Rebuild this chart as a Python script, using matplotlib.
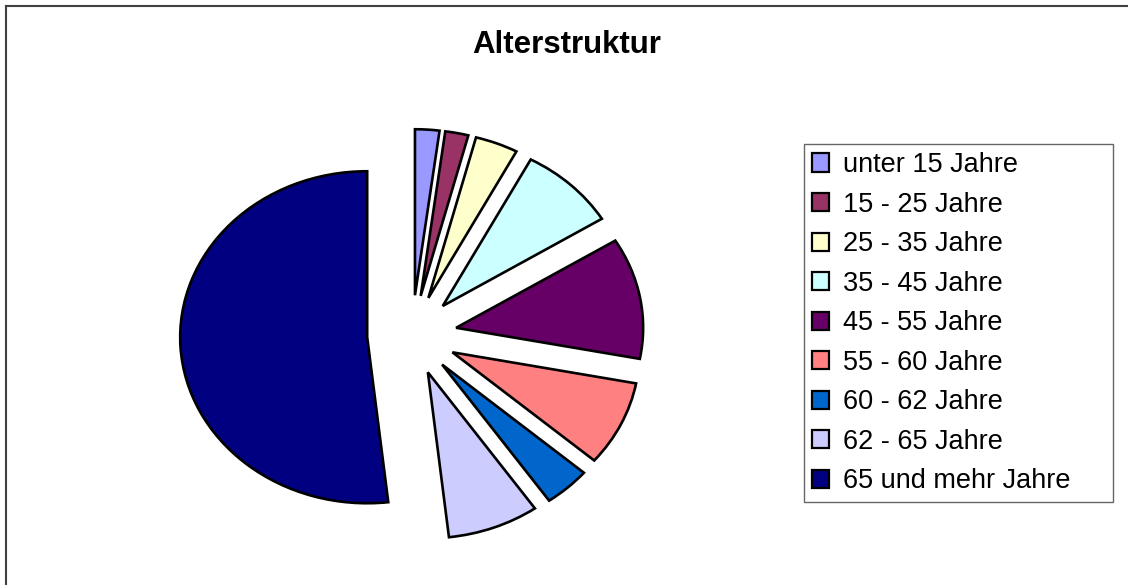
import matplotlib
matplotlib.use("Agg")
import matplotlib.pyplot as plt
from matplotlib.lines import Line2D

# ---- data ----
categories = ["unter 15 Jahre", "15 - 25 Jahre", "25 - 35 Jahre", "35 - 45 Jahre",
              "45 - 55 Jahre", "55 - 60 Jahre", "60 - 62 Jahre", "62 - 65 Jahre",
              "65 und mehr Jahre"]
shares = [2.1, 2.0, 3.7, 8.4, 11.8, 8.3, 4.0, 7.9, 51.8]
colors = ["#9999FF", "#993366", "#FFFFCC", "#CCFFFF", "#660066",
          "#FF8080", "#0066CC", "#CCCCFF", "#000080"]
title = "Alterstruktur"

W, H = 1128, 585
DPI = 100
fig = plt.figure(figsize=(W / DPI, H / DPI), dpi=DPI)
fig.patch.set_facecolor("white")

# pie geometry in pixels
cx, cy = 412, 335      # centre (from top-left)
rx, ry = 187, 166      # horizontal / vertical radius

ax = fig.add_axes([0, 0, 1, 1])
wedges, _ = ax.pie(shares, colors=colors, startangle=90, counterclock=False,
                   explode=[0.24] * len(shares), radius=1.0,
                   wedgeprops=dict(edgecolor="black", linewidth=1.9))
ax.set_aspect("auto")
ax.set_xlim(-cx / rx, (W - cx) / rx)
ax.set_ylim(-(H - cy) / ry, cy / ry)
ax.axis("off")

fig.text(567 / W, 1 - 53 / H, title, ha="center", va="baseline",
         fontsize=22.5, fontweight="bold", family="Liberation Sans")

fs = 19.5
leg = fig.legend(wedges, categories, loc="upper left",
                 bbox_to_anchor=(804 / W, 1 - 500 / H, 309 / W, (500 - 144.5) / H),
                 mode="expand", borderaxespad=0, frameon=True, fancybox=False,
                 prop=dict(family="Liberation Sans", size=fs),
                 handlelength=0.66, handleheight=0.66, handletextpad=0.5,
                 labelspacing=0.50, borderpad=0.28)
leg.get_frame().set_edgecolor("#404040")
leg.get_frame().set_linewidth(1.0)
for h in leg.legend_handles:
    h.set_linewidth(1.6)

# chart-area border (top and left visible)
fig.add_artist(Line2D([5.5 / W, 1], [1 - 5.5 / H, 1 - 5.5 / H], color="#404040",
                      linewidth=1.5, transform=fig.transFigure))
fig.add_artist(Line2D([5.5 / W, 5.5 / W], [0, 1 - 5.5 / H], color="#404040",
                      linewidth=1.5, transform=fig.transFigure))

fig.savefig("out.png", dpi=DPI)
